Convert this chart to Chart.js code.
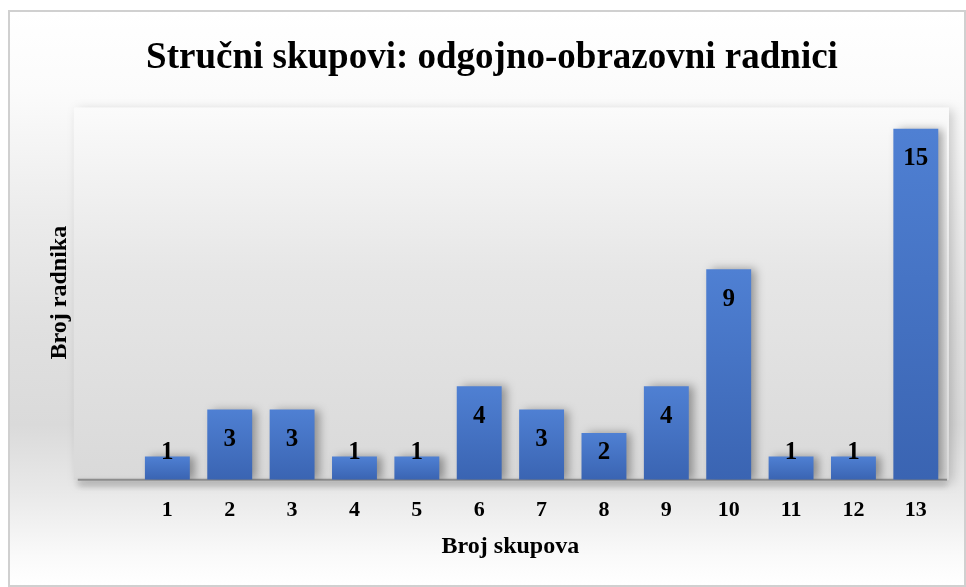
<!DOCTYPE html>
<html>
<head>
<meta charset="utf-8">
<script src="https://cdn.jsdelivr.net/npm/chart.js@4.4.1/dist/chart.umd.min.js"></script>
<style>
  html, body { margin: 0; padding: 0; background: #ffffff; }
  body { width: 966px; height: 587px; position: relative; overflow: hidden; }
  #frame {
    position: absolute; left: 8px; top: 10px; width: 954px; height: 573px;
    border: 2px solid #d0d0d0;
    background: linear-gradient(to bottom, #ffffff 0%, #fbfbfb 14%, #ececec 35%, #e0e0e0 55%, #dadada 72%, #e9e9e9 84%, #fafafa 95%, #ffffff 100%);
  }
  #wrap { position: absolute; left: 0; top: 0; width: 966px; height: 587px; }
</style>
</head>
<body>
<div id="frame"></div>
<div id="wrap"><canvas id="c" width="966" height="587"></canvas></div>
<script>
const titleText = 'Stručni skupovi: odgojno-obrazovni radnici';
const xAxisTitle = 'Broj skupova';
const yAxisTitle = 'Broj radnika';
const categories = ['', '1', '2', '3', '4', '5', '6', '7', '8', '9', '10', '11', '12', '13'];
const workers = [null, 1, 3, 3, 1, 1, 4, 3, 2, 4, 9, 1, 1, 15];
const yMax = 16;

const serif = "'Liberation Serif', 'Times New Roman', serif";

function barGradient(ctx) {
  const chart = ctx.chart;
  const area = chart.chartArea;
  if (!area || ctx.raw == null) return '#4472c4';
  const ys = chart.scales.y;
  const top = ys.getPixelForValue(ctx.raw);
  const base = ys.getPixelForValue(0);
  if (!isFinite(top) || !isFinite(base) || top === base) return '#4472c4';
  const g = chart.ctx.createLinearGradient(0, top, 0, base);
  g.addColorStop(0, '#4f80d3');
  g.addColorStop(1, '#3a64b2');
  return g;
}

const panelPlugin = {
  id: 'panel',
  beforeDatasetsDraw(chart) {
    const {ctx, chartArea: a} = chart;
    ctx.save();
    ctx.shadowColor = 'rgba(0,0,0,0.18)';
    ctx.shadowBlur = 10;
    ctx.shadowOffsetX = 4;
    ctx.shadowOffsetY = 3;
    const g = ctx.createLinearGradient(0, a.top, 0, a.bottom);
    g.addColorStop(0, '#fbfbfb');
    g.addColorStop(0.45, '#e6e6e6');
    g.addColorStop(1, '#d9d9d9');
    ctx.fillStyle = g;
    ctx.fillRect(a.left, a.top + 2, a.right - a.left + 2, a.bottom - a.top - 2);
    ctx.restore();
    ctx.save();
    ctx.shadowColor = 'rgba(0,0,0,0.45)';
    ctx.shadowBlur = 6;
    ctx.shadowOffsetY = 4;
    ctx.strokeStyle = '#8c8c8c';
    ctx.lineWidth = 2;
    ctx.beginPath();
    ctx.moveTo(a.left + 4, a.bottom);
    ctx.lineTo(a.right, a.bottom);
    ctx.stroke();
    ctx.restore();
    ctx.save();
    ctx.shadowColor = 'rgba(0,0,0,0.35)';
    ctx.shadowBlur = 9;
    ctx.shadowOffsetX = 5;
    ctx.shadowOffsetY = 0;
  },
  afterDatasetsDraw(chart) {
    const {ctx} = chart;
    ctx.restore();
    const meta = chart.getDatasetMeta(0);
    ctx.save();
    ctx.font = 'bold 25px ' + serif;
    ctx.fillStyle = '#000000';
    ctx.textAlign = 'center';
    ctx.textBaseline = 'middle';
    meta.data.forEach((bar, i) => {
      const v = workers[i];
      if (v == null) return;
      const y = Math.min(bar.y + 30, bar.base - 27);
      ctx.fillText(String(v), bar.x, y);
    });
    ctx.restore();
  }
};

new Chart(document.getElementById('c'), {
  type: 'bar',
  data: {
    labels: categories,
    datasets: [{
      data: workers,
      backgroundColor: barGradient,
      borderWidth: 0,
      barPercentage: 0.72,
      categoryPercentage: 1.0
    }]
  },
  options: {
    responsive: false,
    animation: false,
    devicePixelRatio: 1,
    layout: { padding: { left: 37, right: 19, top: 10, bottom: 22 } },
    plugins: {
      legend: { display: false },
      tooltip: { enabled: false },
      title: {
        display: true,
        text: titleText,
        color: '#000000',
        font: { family: serif, size: 37, weight: 'bold' },
        padding: { top: 26, bottom: 25 }
      }
    },
    scales: {
      x: {
        grid: { display: false, drawTicks: false },
        border: { display: false },
        ticks: {
          color: '#000000',
          padding: 17,
          font: { family: serif, size: 22, weight: 'bold' }
        },
        title: {
          display: true,
          text: xAxisTitle,
          color: '#000000',
          font: { family: serif, size: 24, weight: 'bold' },
          padding: { top: -8, bottom: 4 }
        }
      },
      y: {
        min: 0,
        max: yMax,
        grid: { display: false, drawTicks: false },
        border: { display: false },
        ticks: { display: false },
        title: {
          display: true,
          text: yAxisTitle,
          color: '#000000',
          font: { family: serif, size: 24, weight: 'bold' },
          padding: { top: 8, bottom: 0 }
        }
      }
    }
  },
  plugins: [panelPlugin]
});
</script>
</body>
</html>
